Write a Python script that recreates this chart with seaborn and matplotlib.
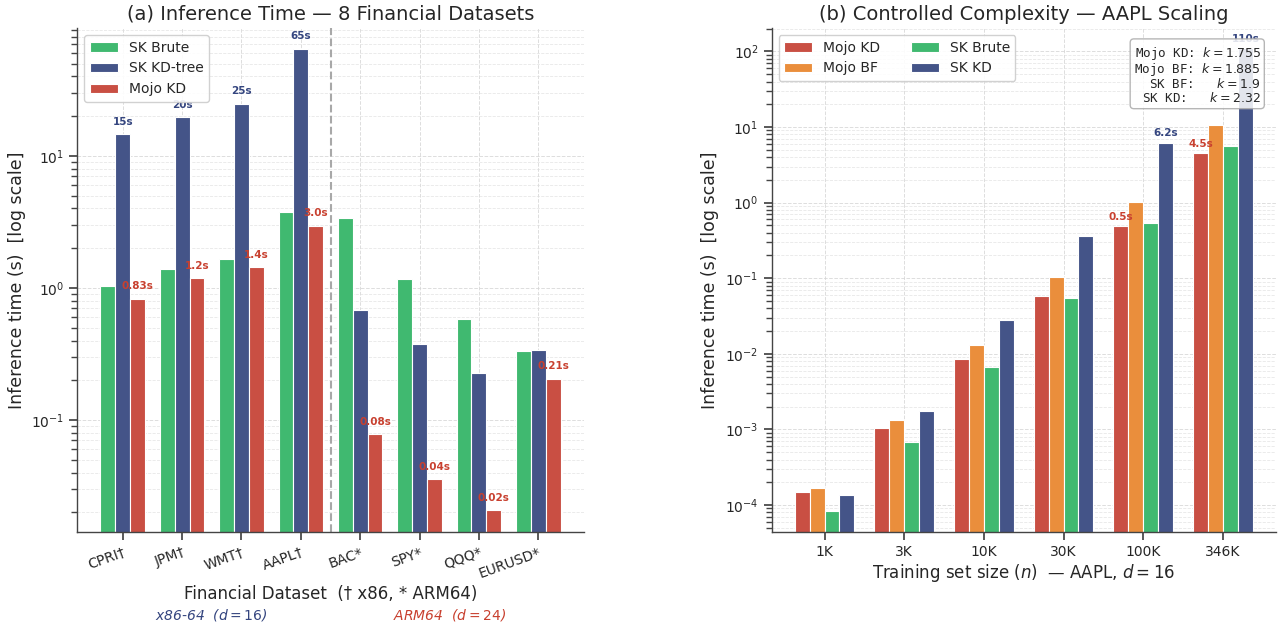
import matplotlib
matplotlib.use("Agg")
import matplotlib.pyplot as plt
import matplotlib.transforms as mtransforms
import pandas as pd
import seaborn as sns

# (a) eight financial datasets
DATASETS = ["CPRI†", "JPM†", "WMT†", "AAPL†", "BAC*", "SPY*", "QQQ*", "EURUSD*"]
SK_BRUTE = [1.04, 1.39, 1.67, 3.77, 3.37, 1.17, 0.58, 0.334]
SK_KDTREE = [14.6, 19.7, 24.9, 64.6, 0.685, 0.375, 0.227, 0.34]
MOJO_KD = [0.83, 1.18, 1.43, 2.96, 0.078, 0.0356, 0.0207, 0.206]

# (b) AAPL scaling with training set size
SIZES = ["1K", "3K", "10K", "30K", "100K", "346K"]
B_MOJO_KD = [1.50e-4, 1.03e-3, 8.5e-3, 5.9e-2, 0.49, 4.5]
B_MOJO_BF = [1.70e-4, 1.34e-3, 1.31e-2, 0.104, 1.01, 10.5]
B_SK_BRUTE = [8.3e-5, 6.8e-4, 6.7e-3, 5.4e-2, 0.535, 5.68]
B_SK_KD = [1.35e-4, 1.73e-3, 2.84e-2, 0.362, 6.2, 110.0]
K_NAMES = ["Mojo KD:", "Mojo BF:", "SK BF:", "SK KD:"]
K_VALUES = ["1.755", "1.885", "1.9", "2.32"]

GREEN = "#40B970"
BLUE = "#445488"
RED = "#C94F43"
ORANGE = "#EA8E3C"
BLUE_TXT = "#34457F"
RED_TXT = "#C8402F"


def fmt_a(v):
    if v >= 10:
        return f"{v:.0f}s"
    if v >= 1:
        return f"{v:.1f}s"
    return f"{v:.2f}s"


def fmt_b(v):
    return f"{v:.0f}s" if v >= 100 else f"{v:.1f}s"


def style_axes(ax):
    ax.set_axisbelow(True)
    ax.grid(True, which="major", ls="--", lw=0.7, color="#d5d5d5", alpha=0.8)
    ax.grid(True, which="minor", axis="y", ls="--", lw=0.6, color="#dddddd", alpha=0.7)
    sns.despine(ax=ax)
    for side in ("left", "bottom"):
        ax.spines[side].set_color("#444444")
        ax.spines[side].set_linewidth(1.0)
    ax.tick_params(axis="both", which="both", color="#444444", labelsize=10)


def label_bars(ax, container, values, keep, color, fmt):
    for patch, v, k in zip(container.patches, values, keep):
        if not k:
            continue
        ax.text(patch.get_x() + patch.get_width() / 2, v * 1.14, fmt(v),
                ha="center", va="bottom", fontsize=7.5, fontweight="bold",
                color=color, zorder=4)


sns.set_theme(style="ticks")
plt.rcParams["font.family"] = ["DejaVu Sans"]

fig = plt.figure(figsize=(12.83, 6.28), dpi=100)
ax1 = fig.add_axes([0.0604, 0.1529, 0.3944, 0.8025])
ax2 = fig.add_axes([0.6015, 0.1529, 0.3928, 0.8025])

# ---- panel (a)
methods_a = ["SK Brute", "SK KD-tree", "Mojo KD"]
df_a = pd.DataFrame({
    "dataset": DATASETS * 3,
    "time": SK_BRUTE + SK_KDTREE + MOJO_KD,
    "method": [m for m in methods_a for _ in DATASETS],
})
ax1.set_yscale("log")
sns.barplot(data=df_a, x="dataset", y="time", hue="method", hue_order=methods_a,
            palette=[GREEN, BLUE, RED], width=0.75, saturation=1,
            edgecolor="white", linewidth=0.8, legend=False, ax=ax1)
label_bars(ax1, ax1.containers[1], SK_KDTREE, [True] * 4 + [False] * 4, BLUE_TXT, fmt_a)
label_bars(ax1, ax1.containers[2], MOJO_KD, [True] * 8, RED_TXT, fmt_a)
ax1.axvline(3.5, color="#a8a8a8", ls="--", lw=1.5, zorder=1)
ax1.set_xlim(-0.7625, 7.7625)
ax1.set_ylim(0.0142, 93)
style_axes(ax1)
plt.setp(ax1.get_xticklabels(), rotation=20, ha="right", rotation_mode="anchor")
ax1.set_title("(a) Inference Time — 8 Financial Datasets", fontsize=14)
ax1.set_xlabel("Financial Dataset  († x86, * ARM64)", fontsize=12, labelpad=3)
ax1.set_ylabel("Inference time (s)  [log scale]", fontsize=12.5)
ax1.legend(ax1.containers, methods_a, loc="upper left", fontsize=10, frameon=True,
           edgecolor="#cccccc", framealpha=0.9, fancybox=True)
trans = mtransforms.blended_transform_factory(ax1.transData, ax1.transAxes)
ax1.text(1.5, -0.165, "x86-64  ($d=16$)", transform=trans, ha="center", va="center",
         fontsize=10, style="italic", color=BLUE_TXT)
ax1.text(5.5, -0.165, "ARM64  ($d=24$)", transform=trans, ha="center", va="center",
         fontsize=10, style="italic", color=RED_TXT)

# ---- panel (b)
methods_b = ["Mojo KD", "Mojo BF", "SK Brute", "SK KD"]
df_b = pd.DataFrame({
    "size": SIZES * 4,
    "time": B_MOJO_KD + B_MOJO_BF + B_SK_BRUTE + B_SK_KD,
    "method": [m for m in methods_b for _ in SIZES],
})
ax2.set_yscale("log")
sns.barplot(data=df_b, x="size", y="time", hue="method", hue_order=methods_b,
            palette=[RED, ORANGE, GREEN, BLUE], width=0.75, saturation=1,
            edgecolor="white", linewidth=0.8, legend=False, ax=ax2)
keep_b = [False] * 4 + [True] * 2
label_bars(ax2, ax2.containers[0], B_MOJO_KD, keep_b, RED_TXT, fmt_b)
label_bars(ax2, ax2.containers[3], B_SK_KD, keep_b, BLUE_TXT, fmt_b)
ax2.set_xlim(-0.6625, 5.6625)
ax2.set_ylim(4.4e-5, 204)
style_axes(ax2)
ax2.set_title("(b) Controlled Complexity — AAPL Scaling", fontsize=14)
ax2.set_xlabel("Training set size ($n$)  — AAPL, $d=16$", fontsize=12, labelpad=2)
ax2.set_ylabel("Inference time (s)  [log scale]", fontsize=12.5)
ax2.legend(ax2.containers, methods_b, loc="upper left", ncol=2, fontsize=10,
           frameon=True, edgecolor="#cccccc", framealpha=0.9, fancybox=True,
           columnspacing=2.2)
k_lines = [f"{n}{' ' if len(n) > 6 else '   '}$k={v}$" for n, v in zip(K_NAMES, K_VALUES)]
ax2.text(0.97, 0.967, "\n".join(k_lines), transform=ax2.transAxes, ha="right", va="top",
         multialignment="right", fontsize=9, family="DejaVu Sans Mono", zorder=6,
         linespacing=0.95,
         bbox=dict(boxstyle="round,pad=0.3", facecolor="white", edgecolor="#aaaaaa",
                   alpha=0.85))

fig.savefig("out.png", dpi=100)
